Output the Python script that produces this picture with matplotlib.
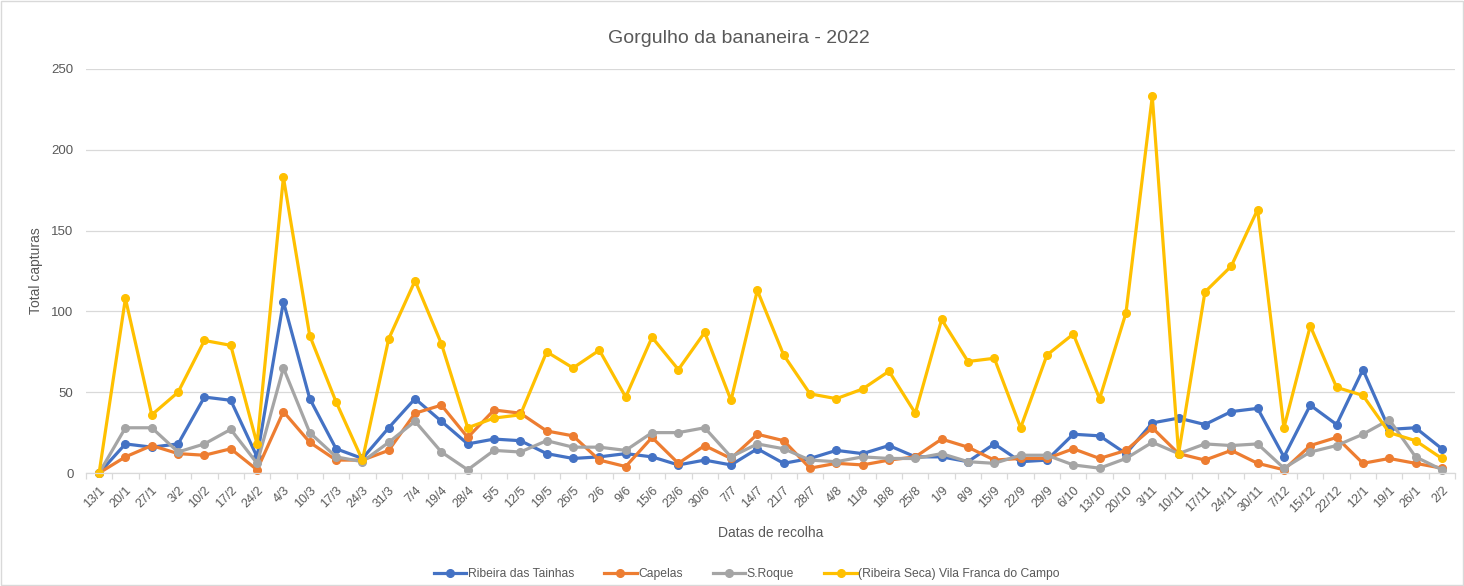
import matplotlib
matplotlib.use("Agg")
import matplotlib.pyplot as plt
from matplotlib.patches import Rectangle
from matplotlib.ticker import FixedLocator

plt.rcParams["font.family"] = ["Liberation Sans", "DejaVu Sans"]

datas = [
    "13/1", "20/1", "27/1", "3/2", "10/2", "17/2", "24/2", "4/3", "10/3", "17/3",
    "24/3", "31/3", "7/4", "19/4", "28/4", "5/5", "12/5", "19/5", "26/5", "2/6",
    "9/6", "15/6", "23/6", "30/6", "7/7", "14/7", "21/7", "28/7", "4/8", "11/8",
    "18/8", "25/8", "1/9", "8/9", "15/9", "22/9", "29/9", "6/10", "13/10", "20/10",
    "3/11", "10/11", "17/11", "24/11", "30/11", "7/12", "15/12", "22/12", "12/1", "19/1",
    "26/1", "2/2",
]

ribeira_tainhas = [
    0, 18, 16, 18, 47, 45, 10, 106, 46, 15,
    9, 28, 46, 32, 18, 21, 20, 12, 9, 10,
    12, 10, 5, 8, 5, 15, 6, 9, 14, 12,
    17, 10, 10, 7, 18, 7, 8, 24, 23, 12,
    31, 34, 30, 38, 40, 10, 42, 30, 64, 27,
    28, 15,
]

capelas = [
    0, 10, 17, 12, 11, 15, 2, 38, 19, 8,
    8, 14, 37, 42, 22, 39, 37, 26, 23, 8,
    4, 22, 6, 17, 9, 24, 20, 3, 6, 5,
    8, 10, 21, 16, 8, 9, 9, 15, 9, 14,
    28, 12, 8, 14, 6, 2, 17, 22, 6, 9,
    6, 3,
]

s_roque = [
    0, 28, 28, 13, 18, 27, 6, 65, 25, 10,
    7, 19, 32, 13, 2, 14, 13, 20, 16, 16,
    14, 25, 25, 28, 10, 18, 15, 8, 7, 10,
    9, 9, 12, 7, 6, 11, 11, 5, 3, 9,
    19, 12, 18, 17, 18, 3, 13, 17, 24, 33,
    10, 2,
]

vila_franca = [
    0, 108, 36, 50, 82, 79, 18, 183, 85, 44,
    8, 83, 119, 80, 28, 34, 36, 75, 65, 76,
    47, 84, 64, 87, 45, 113, 73, 49, 46, 52,
    63, 37, 95, 69, 71, 28, 73, 86, 46, 99,
    233, 12, 112, 128, 163, 28, 91, 53, 48, 25,
    20, 9,
]

series = [
    ("Ribeira das Tainhas", ribeira_tainhas, "#4472C4"),
    ("Capelas", capelas, "#ED7D31"),
    ("S.Roque", s_roque, "#A5A5A5"),
    ("(Ribeira Seca) Vila Franca do Campo", vila_franca, "#FFC000"),
]

texto = "#595959"
grelha = "#D9D9D9"

fig = plt.figure(figsize=(14.64, 5.86), dpi=100)
ax = fig.add_axes([0.0587, 0.1928, 0.9352, 0.6895])

x = list(range(len(datas)))
for nome, valores, cor in series:
    ax.plot(x, valores, color=cor, linewidth=2.3, marker="o", markersize=5.5,
            label=nome, solid_joinstyle="round", clip_on=False)

ax.set_xlim(-0.5, len(datas) - 0.5)
ax.set_ylim(0, 250)
ax.set_yticks([0, 50, 100, 150, 200, 250])
ax.yaxis.grid(True, color=grelha, linewidth=0.9)
ax.set_axisbelow(True)

for lado in ["top", "right", "left"]:
    ax.spines[lado].set_visible(False)
ax.spines["bottom"].set_color(grelha)
ax.spines["bottom"].set_linewidth(0.9)

ax.set_xticks(x)
ax.set_xticklabels(datas, rotation=45, ha="right", rotation_mode="anchor",
                   fontsize=9, color=texto)
ax.xaxis.set_minor_locator(FixedLocator([i - 0.5 for i in range(len(datas) + 1)]))
ax.tick_params(axis="x", which="major", length=0, pad=8)
ax.tick_params(axis="x", which="minor", length=4, color=grelha, width=0.9)
ax.tick_params(axis="y", length=0, pad=9, labelsize=9.5, labelcolor=texto)

ax.set_xlabel("Datas de recolha", fontsize=10, color=texto, labelpad=8)
ax.set_ylabel("Total capturas", fontsize=10, color=texto, labelpad=6)
fig.suptitle("Gorgulho da bananeira - 2022", x=0.505, y=0.935, va="center",
             fontsize=14, color=texto)

fig.legend(loc="lower center", bbox_to_anchor=(0.51, -0.008), ncol=4, frameon=False,
           fontsize=8.7, labelcolor=texto, handlelength=2.7, handletextpad=0.1,
           columnspacing=2.5)

fig.patches.append(Rectangle((0.001, 0.002), 0.998, 0.996, transform=fig.transFigure,
                             fill=False, edgecolor=grelha, linewidth=1))

fig.savefig("out.png", dpi=100)
